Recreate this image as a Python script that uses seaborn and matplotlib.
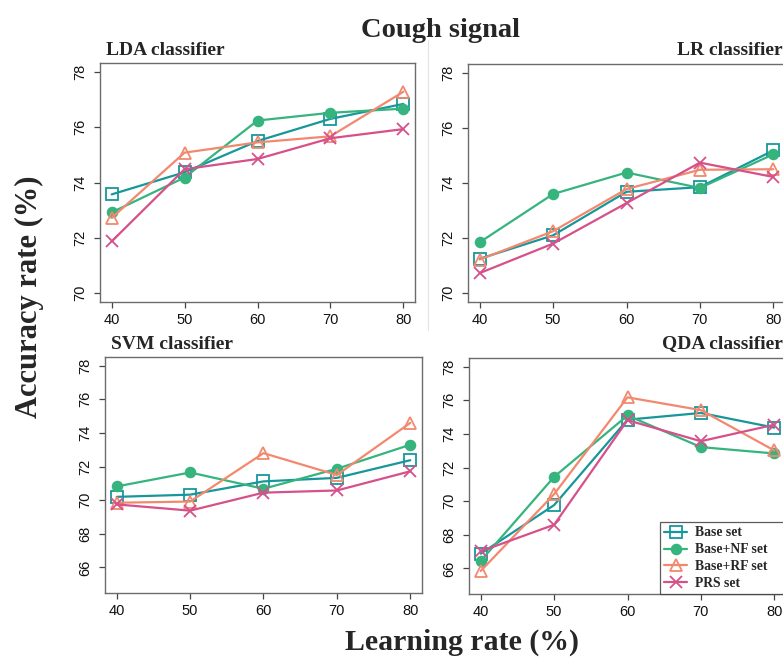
import matplotlib
matplotlib.use("Agg")
import matplotlib.pyplot as plt
import seaborn as sns
import pandas as pd

# ---------------- data ----------------
learning_rate = [40, 50, 60, 70, 80]
series_names = ["Base set", "Base+NF set", "Base+RF set", "PRS set"]

lda_base = [73.57, 74.37, 75.50, 76.30, 76.84]
lda_nf   = [72.92, 74.18, 76.24, 76.52, 76.67]
lda_rf   = [72.72, 75.08, 75.45, 75.67, 77.28]
lda_prs  = [71.87, 74.48, 74.85, 75.60, 75.93]

lr_base = [71.25, 72.10, 73.68, 73.85, 75.18]
lr_nf   = [71.85, 73.60, 74.38, 73.82, 75.04]
lr_rf   = [71.22, 72.25, 73.78, 74.48, 74.50]
lr_prs  = [70.73, 71.80, 73.27, 74.74, 74.22]

svm_base = [70.20, 70.33, 71.12, 71.33, 72.38]
svm_nf   = [70.82, 71.65, 70.68, 71.87, 73.30]
svm_rf   = [69.85, 69.92, 72.80, 71.50, 74.60]
svm_prs  = [69.75, 69.38, 70.45, 70.58, 71.72]

qda_base = [66.88, 69.77, 74.85, 75.25, 74.38]
qda_nf   = [66.45, 71.45, 75.10, 73.22, 72.84]
qda_rf   = [65.85, 70.42, 76.18, 75.42, 73.02]
qda_prs  = [67.02, 68.60, 74.82, 73.57, 74.55]

y_ticks_top = [70, 72, 74, 76, 78]
y_ticks_bottom = [66, 68, 70, 72, 74, 76, 78]
x_ticks = [40, 50, 60, 70, 80]

# ---------------- style ----------------
sns.set_theme(style="white")
plt.rcParams["font.family"] = ["Liberation Sans", "DejaVu Sans"]
SERIF = ["Liberation Serif", "DejaVu Serif"]

colors = {"Base set": "#17979b", "Base+NF set": "#35b47e",
          "Base+RF set": "#f2896f", "PRS set": "#d6508a"}
markers = {"Base set": "s", "Base+NF set": "o", "Base+RF set": "^", "PRS set": "x"}
msizes = {"Base set": 8, "Base+NF set": 7, "Base+RF set": 9, "PRS set": 8}
filled = {"Base set": False, "Base+NF set": True, "Base+RF set": False, "PRS set": False}

fig = plt.figure(figsize=(7.83, 6.57), dpi=100)
W, H = 783.0, 657.0

def px_axes(l, t, r, b):
    return fig.add_axes([l / W, 1 - b / H, (r - l) / W, (b - t) / H])

panels = [
    ("LDA classifier", (100, 63, 415, 302), [lda_base, lda_nf, lda_rf, lda_prs],
     (69.68, 78.32), y_ticks_top, "left"),
    ("LR classifier", (468, 64, 785, 302), [lr_base, lr_nf, lr_rf, lr_prs],
     (69.68, 78.32), y_ticks_top, "right"),
    ("SVM classifier", (105, 357, 422, 593), [svm_base, svm_nf, svm_rf, svm_prs],
     (64.48, 78.52), y_ticks_bottom, "left"),
    ("QDA classifier", (469, 358, 786, 594), [qda_base, qda_nf, qda_rf, qda_prs],
     (64.48, 78.52), y_ticks_bottom, "right"),
]

# faint separator between the two panel columns (as in the composed figure)
fig.add_artist(plt.Line2D([428 / W, 428 / W], [1 - 330 / H, 1 - 40 / H],
                          transform=fig.transFigure, color="#e4e4e4", linewidth=0.8))

for title, box, vals, ylim, yt, side in panels:
    ax = px_axes(*box)
    for name, v in zip(series_names, vals):
        df = pd.DataFrame({"x": learning_rate, "y": v})
        c = colors[name]
        sns.lineplot(data=df, x="x", y="y", ax=ax, color=c, linewidth=1.6,
                     marker=markers[name], markersize=msizes[name],
                     markerfacecolor=(c if filled[name] else "none"),
                     markeredgecolor=c, markeredgewidth=1.3,
                     label=name, legend=False)
    ax.set_xlim(38.4, 81.6)
    ax.set_ylim(*ylim)
    ax.set_xticks(x_ticks)
    ax.set_yticks(yt)
    ax.set_xticklabels([str(t) for t in x_ticks])
    ax.set_yticklabels([str(t) for t in yt], rotation=90, va="center")
    ax.set_xlabel("")
    ax.set_ylabel("")
    for s in ax.spines.values():
        s.set_color("#6b6b6b")
        s.set_linewidth(1.0)
        s.set_visible(True)
    ax.tick_params(axis="both", direction="out", length=4, width=0.9,
                   color="#444444", labelsize=10.5, labelcolor="#111111",
                   bottom=True, left=True)
    ax.tick_params(axis="y", pad=5)
    ax.tick_params(axis="x", pad=4)
    ax.grid(False)
    if side == "left":
        ax.text(0.02, 1.035, title, transform=ax.transAxes, ha="left",
                va="baseline", fontsize=14, fontweight="bold", family=SERIF)
    else:
        ax.text(783.0 / W, 1 - 55.0 / H if box[1] < 100 else 1 - 348.0 / H, title,
                transform=fig.transFigure, ha="right", va="baseline",
                fontsize=14, fontweight="bold", family=SERIF)
    if title.startswith("QDA"):
        handles, labels = ax.get_legend_handles_labels()
        leg = ax.legend(handles, labels, loc="lower left",
                        bbox_to_anchor=(0.6025, 0.0, 0.43, 0.3), mode="expand",
                        borderaxespad=0,
                        frameon=True, fancybox=False, handlelength=1.7,
                        handletextpad=0.6, labelspacing=0.28, borderpad=0.3,
                        prop={"family": SERIF, "weight": "bold", "size": 9.8})
        leg.get_frame().set_edgecolor("#333333")
        leg.get_frame().set_linewidth(0.9)

fig.text(440 / W, 1 - 37 / H, "Cough signal", ha="center", va="baseline",
         fontsize=20.5, fontweight="bold", family=SERIF)
fig.text(462 / W, 1 - 650 / H, "Learning rate (%)", ha="center", va="baseline",
         fontsize=21.5, fontweight="bold", family=SERIF)
fig.text(29 / W, 1 - 297 / H, "Accuracy rate (%)", ha="center", va="center",
         rotation=90, fontsize=22, fontweight="bold", family=SERIF)

fig.savefig("out.png", dpi=100)
